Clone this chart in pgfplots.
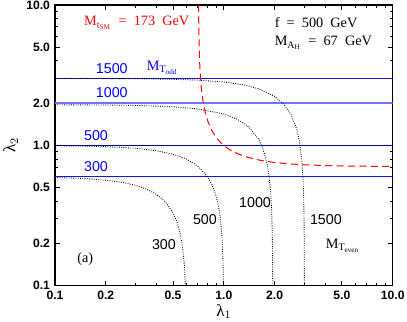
\documentclass[border=0pt]{standalone}
\usepackage{fontspec}
\setmainfont{Liberation Serif}
\setsansfont{Liberation Sans}
\usepackage{pgfplots}
\pgfplotsset{compat=1.18}
\definecolor{oddblue}{RGB}{20,20,235}
\begin{document}
\begin{tikzpicture}
\useasboundingbox (-38.5pt,-25.2pt) rectangle (246.6pt,200.2pt);
\begin{axis}[
  at={(0,0)}, anchor=south west, scale only axis,
  width=236.6pt, height=196.7pt,
  xmode=log, ymode=log, xmin=0.1, xmax=10, ymin=0.1, ymax=10,
  axis line style={line width=0.9pt},
  tick align=inside, major tick length=3.5pt, minor tick length=2pt,
  every tick/.style={black, line width=0.6pt},
  xtick={0.1,0.2,0.5,1,2,5,10}, xticklabels={0.1,0.2,0.5,1.0,2.0,5.0,10.0},
  ytick={0.1,0.2,0.5,1,2,5,10}, yticklabels={0.1,0.2,0.5,1.0,2.0,5.0,10.0},
  minor xtick={0.3,0.4,0.6,0.7,0.8,0.9,3,4,6,7,8,9},
  minor ytick={0.3,0.4,0.6,0.7,0.8,0.9,3,4,6,7,8,9},
  ticklabel style={font=\sffamily\bfseries\fontsize{8.5}{10}\selectfont},
  /pgf/number format/assume math mode=true,
  xlabel={λ$_1$}, ylabel={λ$_2$},
  xlabel style={at={(axis description cs:0.5,-0.092)}, anchor=center, font=\large},
  ylabel style={at={(axis description cs:-0.131,0.5)}, anchor=center, font=\large},
  clip=true,
]
% M_T_odd lines
\addplot[oddblue, line width=0.8pt] coordinates {(0.1,3) (10,3)};
\addplot[blue!55, line width=1.4pt] coordinates {(0.1,2) (10,2)};
\addplot[blue!70!black, line width=0.7pt] coordinates {(0.1,1) (10,1)};
\addplot[oddblue, line width=0.8pt] coordinates {(0.1,0.6) (10,0.6)};
% M_T_even contours
\addplot[black, densely dotted, line width=0.6pt] coordinates {
 (0.1,0.5916)(0.15,0.5809)(0.2,0.5657)(0.25,0.5454)(0.3,0.5196)(0.35,0.4873)
 (0.4,0.4472)(0.45,0.3969)(0.5,0.3317)(0.53,0.2812)(0.55,0.2398)(0.57,0.1873)
 (0.58,0.1536)(0.585,0.1333)(0.5916,0.1)};
\addplot[black, densely dotted, line width=0.6pt] coordinates {
 (0.1,0.995)(0.15,0.9887)(0.2,0.9798)(0.3,0.9539)(0.4,0.9165)(0.5,0.866)
 (0.6,0.8)(0.7,0.7141)(0.8,0.6)(0.85,0.5268)(0.9,0.4359)(0.93,0.3676)
 (0.95,0.3122)(0.97,0.2431)(0.98,0.199)(0.99,0.1411)(0.995,0.1)};
\addplot[black, densely dotted, line width=0.6pt] coordinates {
 (0.1,1.9474)(0.2,1.9397)(0.3,1.9268)(0.5,1.8848)(0.7,1.82)(1.0,1.6741)
 (1.2,1.537)(1.4,1.3574)(1.6,1.1147)(1.7,0.9552)(1.8,0.75)(1.85,0.6164)
 (1.9,0.4387)(1.92,0.3407)(1.935,0.2414)(1.943,0.1651)(1.9474,0.1)};
\addplot[black, densely dotted, line width=0.6pt] coordinates {
 (0.1,2.9983)(0.2,2.9933)(0.3,2.985)(0.5,2.958)(0.7,2.9172)(1.0,2.8284)
 (1.3,2.7037)(1.6,2.5377)(2.0,2.2361)(2.3,1.9261)(2.5,1.6583)(2.7,1.3077)
 (2.8,1.077)(2.9,0.7681)(2.95,0.5454)(2.97,0.4232)(2.985,0.2996)
 (2.993,0.2048)(2.9983,0.1)};
% M_t_SM = 173 GeV
\addplot[red, dash pattern=on 5pt off 3pt, line width=0.7pt] coordinates {
 (0.70888,10)(0.71074,7)(0.71429,5)(0.71842,4)(0.72761,3)(0.73721,2.5)
 (0.75593,2)(0.77756,1.7)(0.80178,1.5)(0.84267,1.3)(0.87519,1.2)
 (0.9231,1.1)(0.95653,1.05)(1,1)(1.05,0.95653)(1.1,0.9231)(1.2,0.87519)
 (1.3,0.84267)(1.5,0.80178)(1.7,0.77756)(2,0.75593)(2.5,0.73721)
 (3,0.72761)(4,0.71842)(5,0.71429)(7,0.71074)(10,0.70888)};
% annotations
\node[red] at (axis cs:0.305,7.45) {M$_{\mathrm{t}_{\mathrm{SM}}}$\ \ =\ \ 173\ \ GeV};
\node[anchor=west] at (axis cs:1.87,7.45) {f\ \ =\ \ 500\ \ GeV};
\node[anchor=west] at (axis cs:1.87,5.36) {M$_{\mathrm{A}_{\mathrm{H}}}$\ \ =\ \ 67\ \ GeV};
\node[blue, font=\sffamily] at (axis cs:0.217,3.5) {1500};
\node[blue, anchor=west] at (axis cs:0.327,3.56) {M$_{\mathrm{T}_{\mathrm{odd}}}$};
\node[blue, font=\sffamily] at (axis cs:0.217,2.37) {1000};
\node[blue, font=\sffamily] at (axis cs:0.175,1.17) {500};
\node[blue, font=\sffamily] at (axis cs:0.175,0.703) {300};
\node[font=\sffamily] at (axis cs:0.442,0.196) {300};
\node[font=\sffamily] at (axis cs:0.773,0.295) {500};
\node[font=\sffamily] at (axis cs:1.53,0.39) {1000};
\node[font=\sffamily] at (axis cs:4.02,0.295) {1500};
\node[anchor=west] at (axis cs:3.75,0.193) {M$_{\mathrm{T}_{\mathrm{even}}}$};
\node at (axis cs:0.151,0.156) {(a)};
\end{axis}
\end{tikzpicture}
\end{document}
